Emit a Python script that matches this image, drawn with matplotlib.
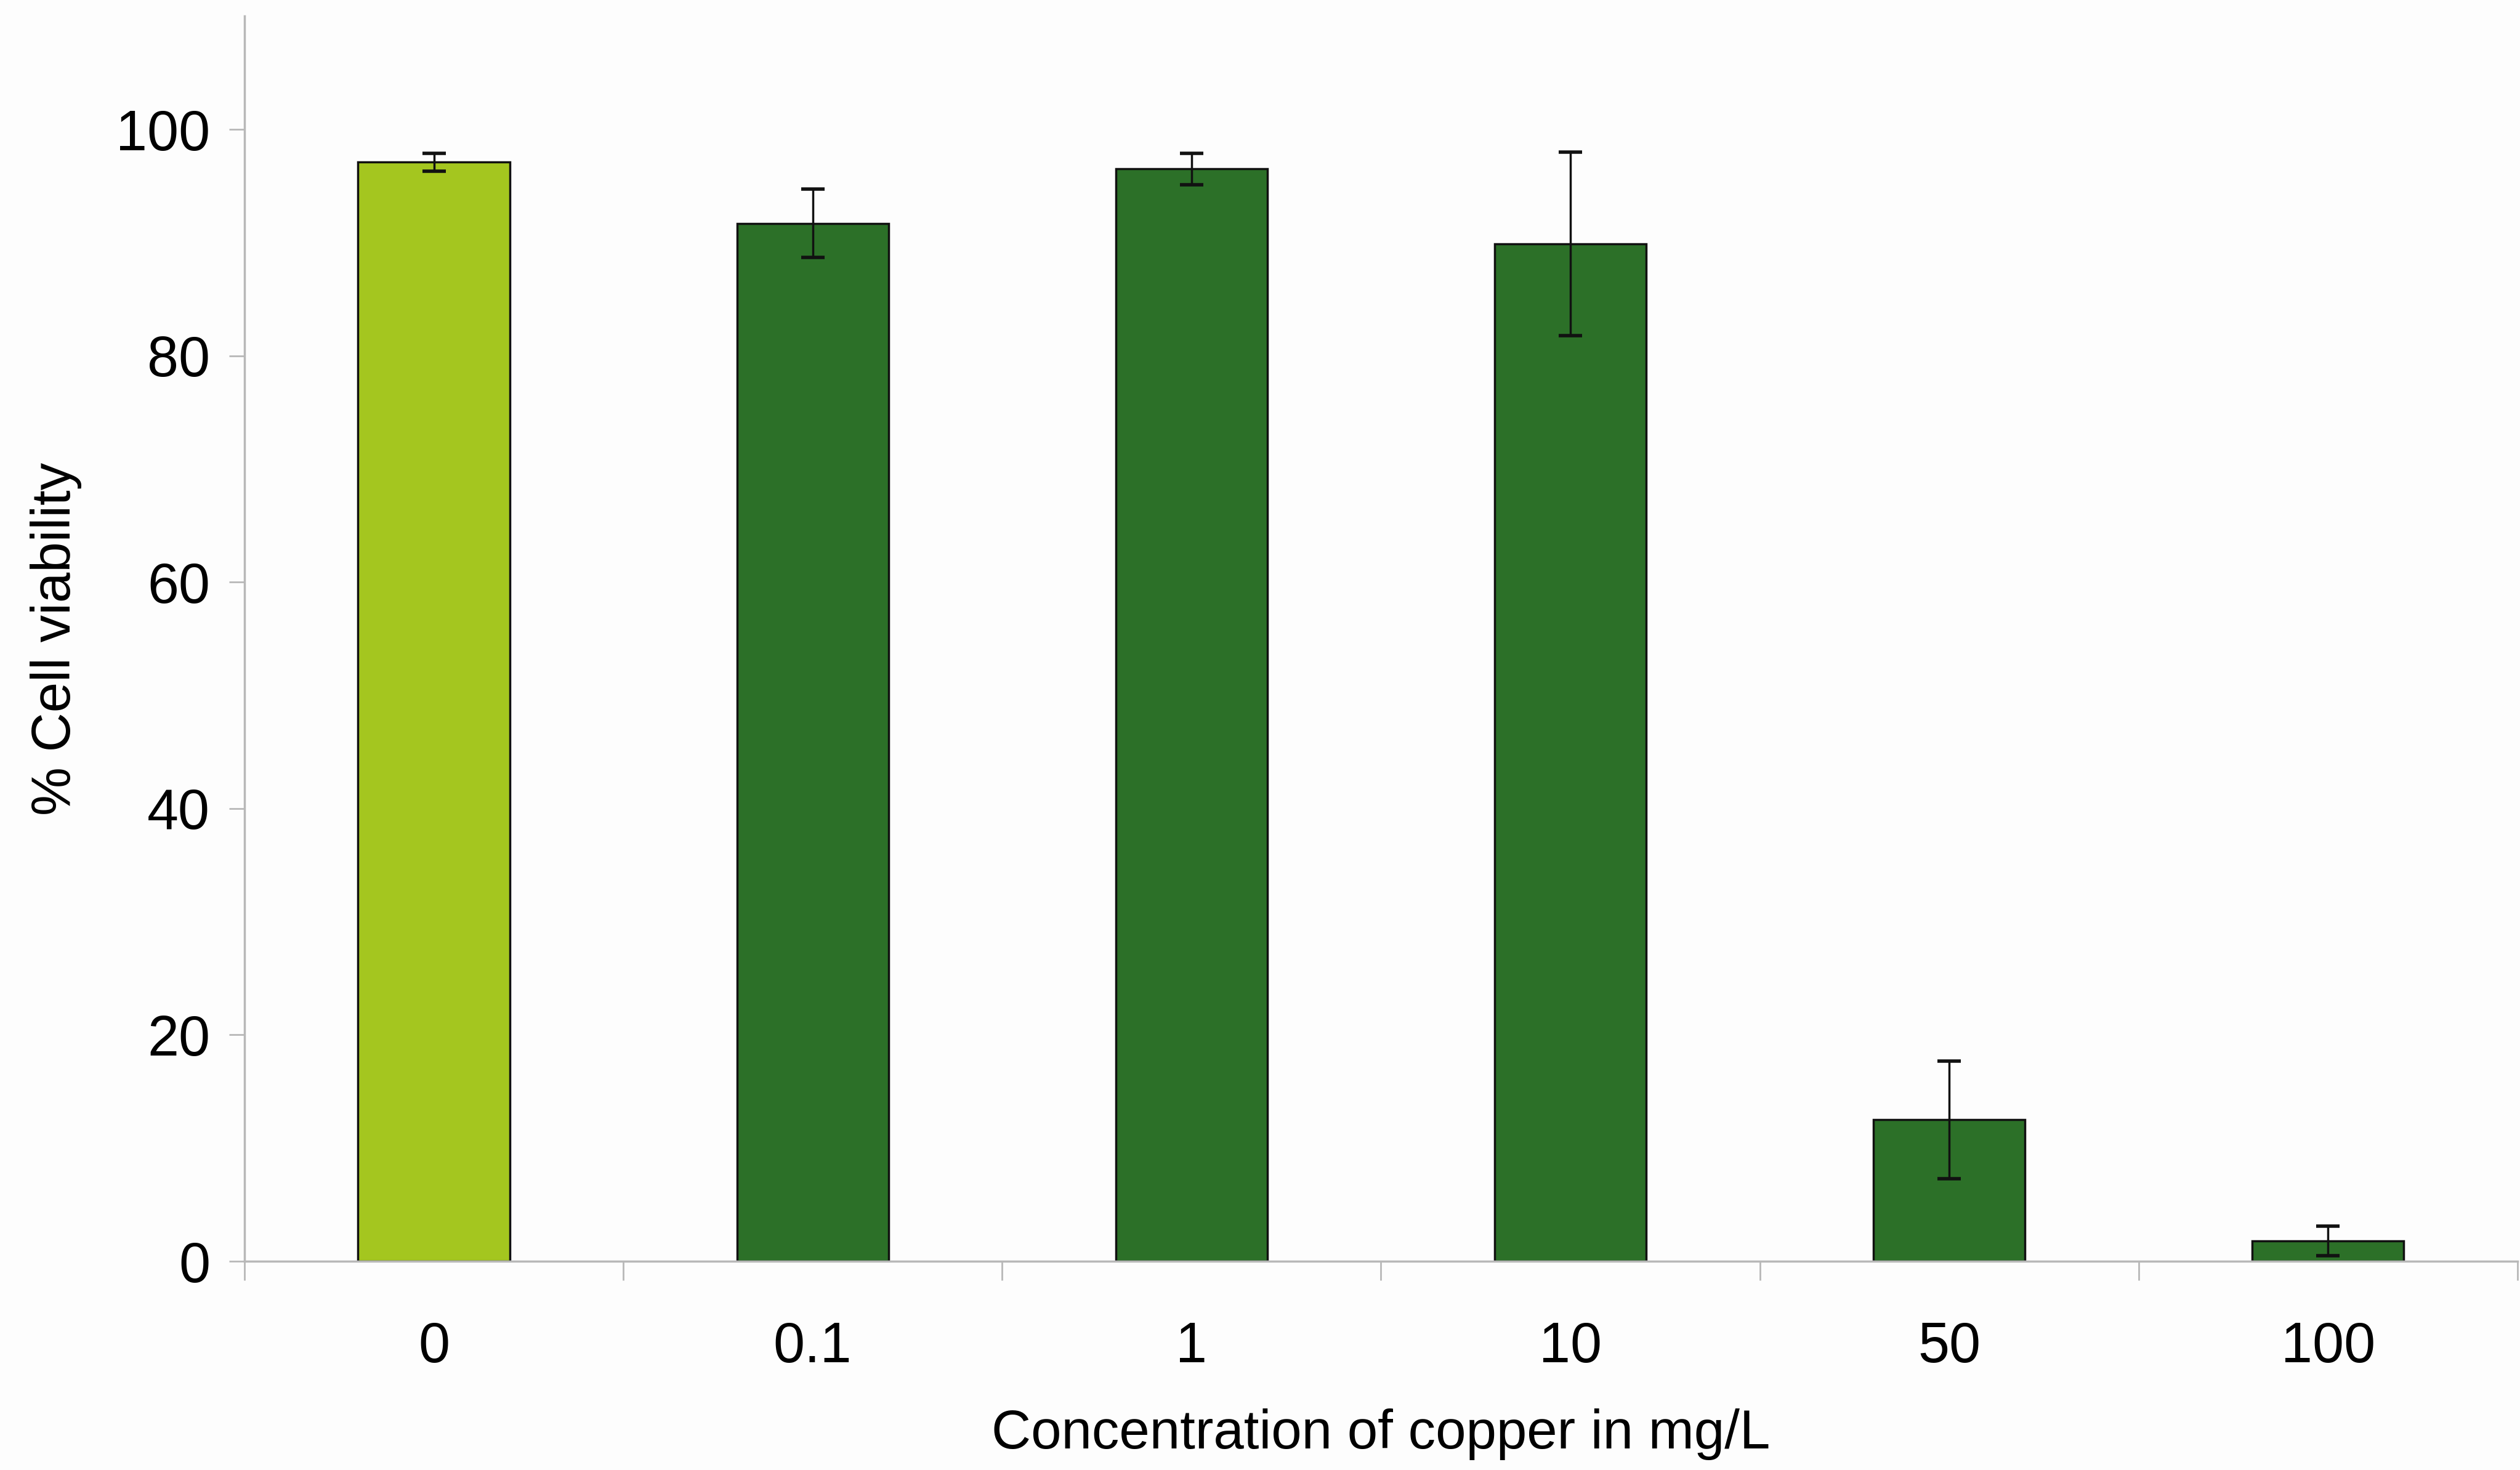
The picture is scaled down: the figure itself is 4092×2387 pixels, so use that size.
import matplotlib
matplotlib.use("Agg")
import matplotlib.pyplot as plt
import numpy as np

categories = ["0", "0.1", "1", "10", "50", "100"]
viability = [97.1, 91.7, 96.5, 89.9, 12.5, 1.8]
errors = [0.8, 3.0, 1.4, 8.1, 5.2, 1.3]
bar_colors = ["#a4c61f", "#2c7028", "#2c7028", "#2c7028", "#2c7028", "#2c7028"]
yticks = [0, 20, 40, 60, 80, 100]

plt.rcParams['font.family'] = ['Liberation Sans', 'DejaVu Sans']

fig = plt.figure(figsize=(40.92, 23.87), dpi=100)
fig.patch.set_facecolor("#fdfdfd")
ax = fig.add_axes([0.097, 0.142, 0.902, 0.847])
ax.set_facecolor("#fdfdfd")

x = np.arange(len(categories))
ax.bar(x, viability, width=0.4, color=bar_colors, edgecolor="#111111", linewidth=2.5,
       yerr=errors, error_kw=dict(ecolor="#111111", elinewidth=2.5, capsize=14, capthick=4))

ax.set_xlim(-0.5, len(categories) - 0.5)
ax.set_ylim(0, 110)
ax.set_yticks(yticks)
ax.set_xticks(x)
ax.set_xticklabels(categories)
ax.set_xticks(np.arange(len(categories) + 1) - 0.5, minor=True)

for s in ["top", "right"]:
    ax.spines[s].set_visible(False)
for s in ["left", "bottom"]:
    ax.spines[s].set_color("#b8b8b8")
    ax.spines[s].set_linewidth(2.5)

ax.tick_params(axis="y", which="major", length=18, width=2, color="#b8b8b8",
               labelsize=66, pad=22)
ax.tick_params(axis="x", which="major", length=0, labelsize=66, pad=70)
ax.tick_params(axis="x", which="minor", length=22, width=2, color="#b8b8b8")

ax.set_ylabel("% Cell viability", fontsize=64, labelpad=40)
ax.set_xlabel("Concentration of copper in mg/L", fontsize=64, labelpad=40)

fig.savefig("out.png", dpi=100, facecolor=fig.get_facecolor())
